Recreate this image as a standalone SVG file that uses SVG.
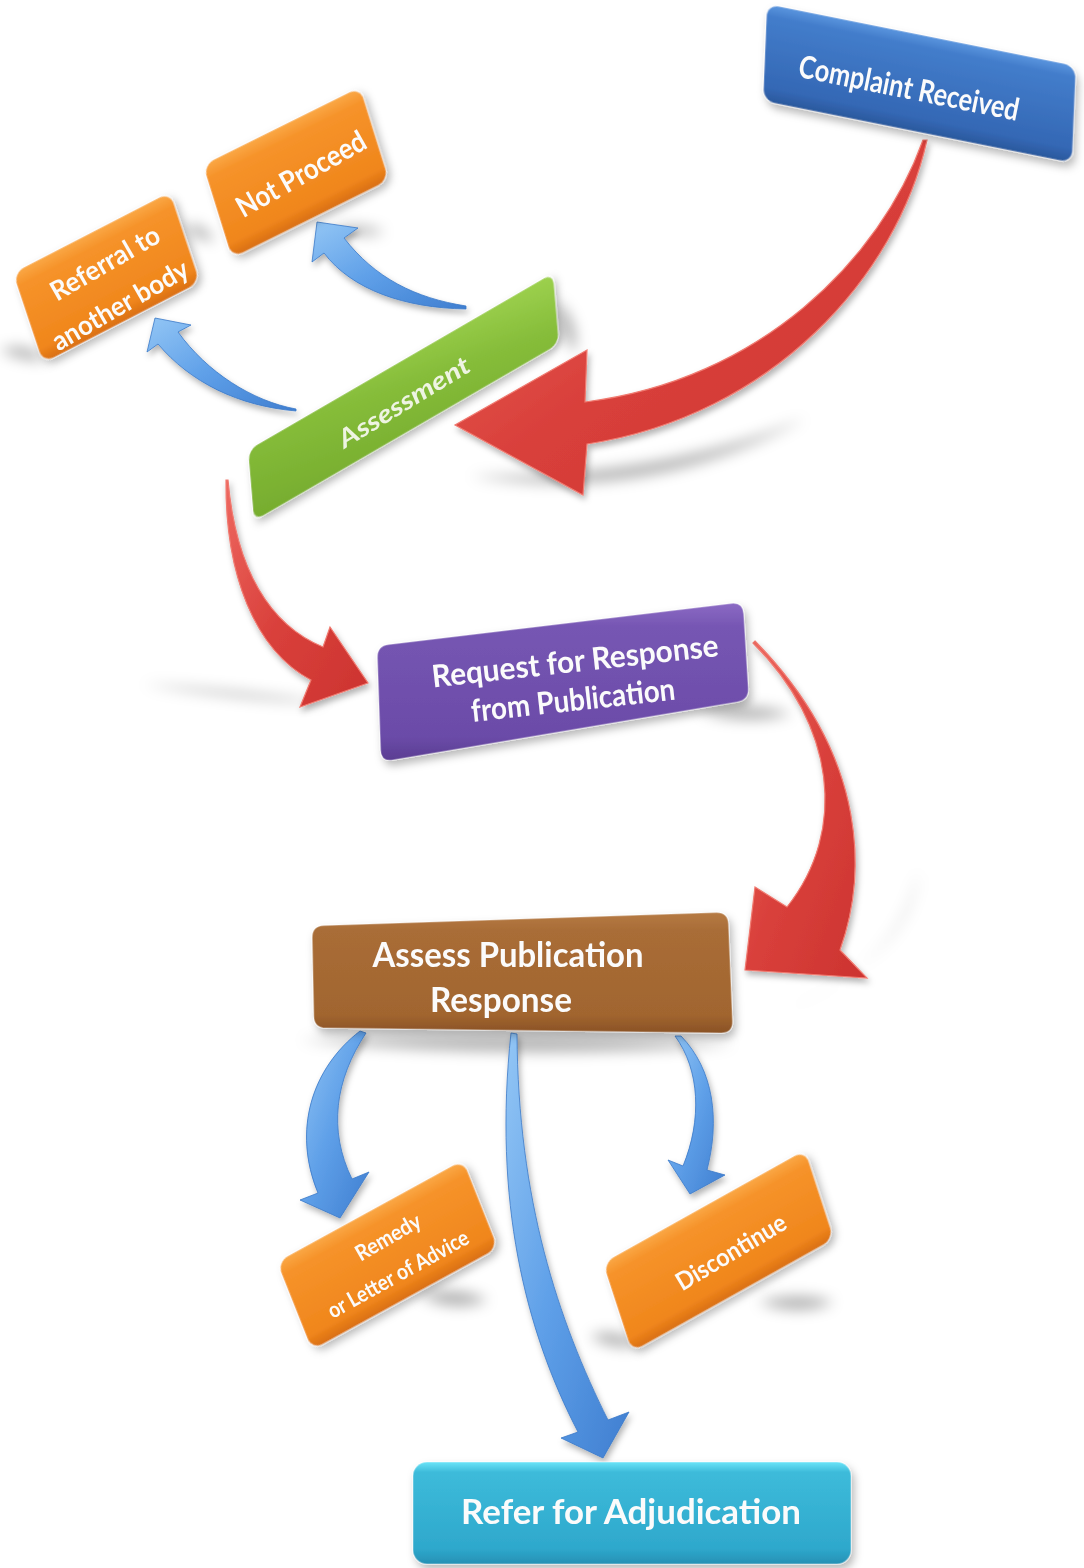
<svg xmlns="http://www.w3.org/2000/svg" width="1084" height="1568" viewBox="0 0 1084 1568">
  <defs>
    <linearGradient id="gBlue" x1="0" y1="0" x2="0" y2="1">
      <stop offset="0" stop-color="#5a95de"/>
      <stop offset="0.12" stop-color="#437dcb"/>
      <stop offset="0.85" stop-color="#3468b5"/>
      <stop offset="1" stop-color="#2a589c"/>
    </linearGradient>
    <linearGradient id="gOrange" x1="0" y1="0" x2="0" y2="1">
      <stop offset="0" stop-color="#faa846"/>
      <stop offset="0.15" stop-color="#f6932a"/>
      <stop offset="0.85" stop-color="#f0861c"/>
      <stop offset="1" stop-color="#d96f12"/>
    </linearGradient>
    <linearGradient id="gGreen" x1="0" y1="1" x2="1" y2="0">
      <stop offset="0" stop-color="#76ac2e"/>
      <stop offset="0.6" stop-color="#86bd3a"/>
      <stop offset="1" stop-color="#9dd14e"/>
    </linearGradient>
    <linearGradient id="gPurple" x1="0" y1="0" x2="0" y2="1">
      <stop offset="0" stop-color="#8b6ac4"/>
      <stop offset="0.15" stop-color="#7656b3"/>
      <stop offset="0.85" stop-color="#6b4ba8"/>
      <stop offset="1" stop-color="#5a3d92"/>
    </linearGradient>
    <linearGradient id="gBrown" x1="0" y1="0" x2="0" y2="1">
      <stop offset="0" stop-color="#b67a44"/>
      <stop offset="0.15" stop-color="#a96d37"/>
      <stop offset="0.85" stop-color="#a1652f"/>
      <stop offset="1" stop-color="#8a5226"/>
    </linearGradient>
    <linearGradient id="gTeal" x1="0" y1="0" x2="0" y2="1">
      <stop offset="0" stop-color="#6ae4f8"/>
      <stop offset="0.1" stop-color="#3dbbda"/>
      <stop offset="0.85" stop-color="#2ea8cc"/>
      <stop offset="1" stop-color="#2690b4"/>
    </linearGradient>
    <linearGradient id="gRed" x1="0" y1="0" x2="1" y2="1">
      <stop offset="0" stop-color="#ee6860"/>
      <stop offset="0.5" stop-color="#d9403b"/>
      <stop offset="1" stop-color="#cc3330"/>
    </linearGradient>
    <linearGradient id="gArrow" x1="0" y1="0" x2="1" y2="1">
      <stop offset="0" stop-color="#93c6f5"/>
      <stop offset="0.5" stop-color="#5e9fe8"/>
      <stop offset="1" stop-color="#3f7ed0"/>
    </linearGradient>
    <filter id="blur" x="-30%" y="-30%" width="160%" height="160%">
      <feGaussianBlur stdDeviation="7"/>
    </filter>
    <filter id="lift" x="-20%" y="-20%" width="140%" height="140%">
      <feDropShadow dx="3" dy="5" stdDeviation="4" flood-color="#000" flood-opacity="0.28"/>
    </filter>
    <filter id="liftSmall" x="-20%" y="-20%" width="140%" height="140%">
      <feDropShadow dx="2" dy="4" stdDeviation="3" flood-color="#000" flood-opacity="0.3"/>
    </filter>
  </defs>
  <style>
    .label { font-family: Lato, "Open Sans", "Liberation Sans", sans-serif; font-weight: 700; fill: #fbfbfb; text-anchor: middle; }
    .shade { fill: #000; opacity: 0.3; }
    .edge { stroke: #ffffff; stroke-opacity: 0.3; stroke-width: 1.5; }
    .red { fill: url(#gRed); stroke: #f07a70; stroke-width: 1.2; }
    .blue { fill: url(#gArrow); stroke: #3a78c8; stroke-width: 0.8; }
  </style>

  <rect width="1084" height="1568" fill="#ffffff"/>

  <!-- soft cast shadows -->
  <g id="shadows" filter="url(#blur)">
    <path class="shade" d="M470,476 Q650,505 806,418 Q660,478 470,476 Z"/>
    <path class="shade" d="M142,684 Q240,700 330,703 Q240,690 142,684 Z"/>
    <path class="shade" d="M782,1012 Q905,960 918,870 Q912,955 782,1012 Z"/>
    <path class="shade" d="M0,350 Q25,340 48,360 Q20,362 0,350 Z"/>
    <path class="shade" d="M185,226 Q200,220 215,240 Q195,242 185,226 Z"/>
    <path class="shade" d="M330,228 Q360,222 385,232 Q360,240 330,228 Z"/>
    <path class="shade" d="M556,300 Q580,320 575,352 Q560,340 556,300 Z"/>
    <path class="shade" d="M700,712 Q750,700 792,714 Q745,726 700,712 Z"/>
    <path class="shade" d="M300,1040 Q520,1030 735,1044 Q520,1062 300,1040 Z"/>
    <path class="shade" d="M420,1296 Q455,1284 488,1300 Q455,1314 420,1296 Z"/>
    <path class="shade" d="M590,1336 Q615,1326 642,1345 Q612,1352 590,1336 Z"/>
    <path class="shade" d="M758,1302 Q800,1290 834,1302 Q800,1318 758,1302 Z"/>
  </g>

  <!-- connectors -->
  <g id="connectors">
    <path id="arrow-complaint-assessment" class="red" filter="url(#liftSmall)" d="M923,140 C880,260 760,380 585,402 L587,350 L455,425 L583,495 L587,444 C772,416 897,276 927,140 Z"/>
    <path id="arrow-assessment-request" class="red" filter="url(#liftSmall)" d="M228,480 C236,570 270,625 323,647 L330,627 L368,683 L300,707 L311,680 C255,650 225,575 226,480 Z"/>
    <path id="arrow-request-assess" class="red" filter="url(#liftSmall)" d="M753,643 C835,725 848,830 787,907 L755,887 L745,970 L867,978 L840,950 C865,880 872,760 755,641 Z"/>
    <path id="arrow-assessment-notproceed" class="blue" filter="url(#liftSmall)" d="M466,309 C405,308 352,290 324,253 L312,262 L317,222 L358,228 L344,238 C375,278 415,298 466,306 Z"/>
    <path id="arrow-assessment-referral" class="blue" filter="url(#liftSmall)" d="M296,411 C238,406 190,382 158,344 L147,352 L155,318 L191,325 L178,332 C207,372 252,401 296,409 Z"/>
    <path id="arrow-assess-remedy" class="blue" filter="url(#liftSmall)" d="M366,1033 C335,1080 328,1130 352,1179 L369,1172 L340,1218 L300,1200 L318,1193 C292,1130 312,1068 360,1031 Z"/>
    <path id="arrow-assess-refer" class="blue" filter="url(#liftSmall)" d="M511,1033 C493,1200 525,1330 578,1432 L561,1438 L603,1458 L629,1412 L608,1420 C558,1320 518,1200 517,1034 Z"/>
    <path id="arrow-assess-discontinue" class="blue" filter="url(#liftSmall)" d="M675,1036 C700,1070 702,1120 683,1166 L668,1160 L690,1194 L725,1175 L707,1170 C720,1120 714,1070 681,1036 Z"/>
  </g>

  <!-- nodes -->
  <g id="complaint-received">
    <rect class="edge" width="315.2" height="97.1" rx="12" fill="url(#gBlue)" filter="url(#lift)" transform="matrix(0.9803 0.1967 -0.0412 0.9992 767 4)"/>
    <text class="label" font-size="31" x="909" y="88" dy="0.35em" textLength="224" lengthAdjust="spacingAndGlyphs" transform="rotate(11.4 909 88)">Complaint Received</text>
  </g>

  <g id="not-proceed">
    <rect class="edge" width="175.3" height="97.4" rx="12" fill="url(#gOrange)" filter="url(#lift)" transform="matrix(0.8956 -0.4449 0.2977 0.9548 203 165)"/>
    <text class="label" font-size="29" x="301" y="174" dy="0.35em" textLength="144" lengthAdjust="spacingAndGlyphs" transform="rotate(-29.5 301 174)">Not Proceed</text>
  </g>

  <g id="referral">
    <rect class="edge" width="176.7" height="94.9" rx="12" fill="url(#gOrange)" filter="url(#lift)" transform="matrix(0.8885 -0.4584 0.3162 0.9487 13 273)"/>
    <text class="label" font-size="27" x="105" y="263" dy="0.35em" textLength="122" lengthAdjust="spacingAndGlyphs" transform="rotate(-30 105 263)">Referral to</text>
    <text class="label" font-size="27" x="120" y="305" dy="0.35em" textLength="153" lengthAdjust="spacingAndGlyphs" transform="rotate(-30 120 305)">another body</text>
  </g>

  <g id="assessment">
    <rect class="edge" width="352.6" height="71.25" rx="10" fill="url(#gGreen)" filter="url(#lift)" transform="matrix(0.865 -0.502 0.0842 0.9965 248 450)"/>
    <text class="label" font-size="25" font-style="italic" style="fill:#eef4e2" x="404" y="402" dy="0.35em" textLength="150" lengthAdjust="spacingAndGlyphs" transform="rotate(-31.5 404 402)">Assessment</text>
  </g>

  <g id="request-response">
    <path class="edge" fill="url(#gPurple)" filter="url(#lift)" d="M388.9,644.6 L731.1,603.4 Q743,602 743.7,614 L748.3,688 Q749,700 737.2,702 L392.8,760 Q381,762 380.6,750 L377.4,658 Q377,646 388.9,644.6 Z"/>
    <text class="label" font-size="31" x="575" y="661" dy="0.35em" textLength="288" lengthAdjust="spacingAndGlyphs" transform="rotate(-6.3 575 661)">Request for Response</text>
    <text class="label" font-size="31" x="573" y="700" dy="0.35em" textLength="205" lengthAdjust="spacingAndGlyphs" transform="rotate(-6.3 573 700)">from Publication</text>
  </g>

  <g id="assess-publication-response">
    <path class="edge" fill="url(#gBrown)" filter="url(#lift)" d="M324,925.6 L716,912.4 Q728,912 728.5,924 L732.5,1021 Q733,1033 721,1032.9 L326,1028.1 Q314,1028 313.8,1016 L312.2,938 Q312,926 324,925.6 Z"/>
    <text class="label" font-size="34" x="508" y="955" dy="0.35em" textLength="271" lengthAdjust="spacingAndGlyphs">Assess Publication</text>
    <text class="label" font-size="34" x="501" y="1000" dy="0.35em" textLength="142" lengthAdjust="spacingAndGlyphs">Response</text>
  </g>

  <g id="remedy">
    <rect class="edge" width="212.1" height="94.7" rx="12" fill="url(#gOrange)" filter="url(#lift)" transform="matrix(0.8769 -0.4809 0.3696 0.9292 277 1262)"/>
    <text class="label" font-size="22" x="388" y="1237" dy="0.35em" textLength="72" lengthAdjust="spacingAndGlyphs" transform="rotate(-30 388 1237)">Remedy</text>
    <text class="label" font-size="22" x="398" y="1274" dy="0.35em" textLength="158" lengthAdjust="spacingAndGlyphs" transform="rotate(-29 398 1274)">or Letter of Advice</text>
  </g>

  <g id="discontinue">
    <rect class="edge" width="231.5" height="93.6" rx="12" fill="url(#gOrange)" filter="url(#lift)" transform="matrix(0.8726 -0.4881 0.3098 0.9508 603 1263)"/>
    <text class="label" font-size="25" x="731" y="1252" dy="0.35em" textLength="124" lengthAdjust="spacingAndGlyphs" transform="rotate(-31 731 1252)">Discontinue</text>
  </g>

  <g id="refer-adjudication">
    <rect class="edge" x="413" y="1462" width="438" height="102" rx="14" fill="url(#gTeal)" filter="url(#lift)"/>
    <text class="label" font-size="35" x="631" y="1512" dy="0.35em" textLength="340" lengthAdjust="spacingAndGlyphs">Refer for Adjudication</text>
  </g>
</svg>
